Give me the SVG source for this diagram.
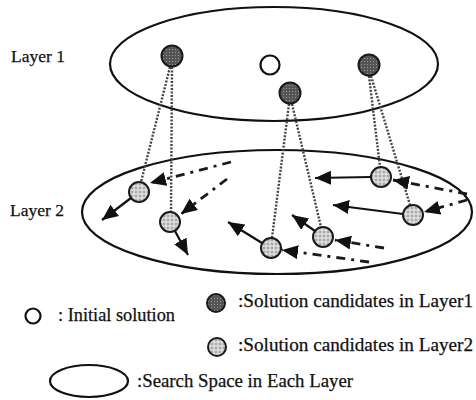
<svg xmlns="http://www.w3.org/2000/svg" width="476" height="400" viewBox="0 0 476 400">
  <style>
    .space { fill: none; stroke: #111; stroke-width: 2.2; }
    .label { font-family: "Liberation Serif", "Times New Roman", serif; font-size: 17.5px; fill: #111; stroke: #111; stroke-width: 0.25; }
    .key { font-size: 18.5px; }
    .init { fill: #fff; stroke: #111; stroke-width: 2.2; }
    .cand1 { fill: url(#dots); stroke: #1a1a1a; stroke-width: 2; }
    .cand2 { fill: url(#grid); stroke: #1a1a1a; stroke-width: 2; }
    .link { fill: none; stroke: #444; stroke-width: 2.4; stroke-dasharray: 2 1.5; }
    .move { fill: none; stroke: #111; stroke-width: 2.2; marker-end: url(#head); }
    .trail { fill: none; stroke: #1a1a1a; stroke-width: 2.8; stroke-dasharray: 9 6 3 6; marker-end: url(#head); }
  </style>
  <defs>
    <pattern id="dots" width="3" height="3" patternUnits="userSpaceOnUse">
      <rect width="3" height="3" fill="#555"/>
      <rect x="1" y="1" width="1" height="1" fill="#999"/>
    </pattern>
    <pattern id="grid" width="4" height="4" patternUnits="userSpaceOnUse">
      <rect width="4" height="4" fill="#aaa"/>
      <path d="M0 2H4M2 0V4" stroke="#f2f2f2" stroke-width="1"/>
    </pattern>
    <marker id="head" markerUnits="userSpaceOnUse" markerWidth="17" markerHeight="15" refX="16" refY="7" orient="auto">
      <path d="M0 0L16 7L0 14Z" fill="#111"/>
    </marker>
  </defs>

  <!-- layer labels -->
  <text class="label" x="11" y="62">Layer 1</text>
  <text class="label" x="10" y="216">Layer 2</text>

  <!-- search spaces -->
  <ellipse id="layer1-space" class="space" cx="274" cy="64" rx="164" ry="57"/>
  <ellipse id="layer2-space" class="space" cx="277" cy="212" rx="195" ry="62"/>

  <!-- connectors -->
  <g id="connectors">
    <!-- layer 1 candidates projected into layer 2 -->
    <line class="link" x1="170" y1="67" x2="141" y2="182"/>
    <line class="link" x1="172" y1="67" x2="171" y2="212"/>
    <line class="link" x1="289" y1="104" x2="272" y2="238"/>
    <line class="link" x1="292" y1="104" x2="321" y2="227"/>
    <line class="link" x1="369" y1="76" x2="380" y2="167"/>
    <line class="link" x1="371" y1="76" x2="410" y2="205"/>
    <!-- incoming search trails -->
    <line class="trail" x1="231" y1="162" x2="150" y2="183"/>
    <line class="trail" x1="227" y1="179" x2="181" y2="214"/>
    <line class="trail" x1="369" y1="262" x2="282" y2="250"/>
    <line class="trail" x1="384" y1="248" x2="335" y2="240"/>
    <line class="trail" x1="467" y1="194" x2="393" y2="180"/>
    <line class="trail" x1="467" y1="200" x2="424" y2="212"/>
    <!-- outgoing moves -->
    <line class="move" x1="131" y1="198" x2="102" y2="220"/>
    <line class="move" x1="175" y1="231" x2="188" y2="255"/>
    <line class="move" x1="262" y1="243" x2="228" y2="222"/>
    <line class="move" x1="315" y1="231" x2="292" y2="215"/>
    <line class="move" x1="371" y1="177" x2="315" y2="178"/>
    <line class="move" x1="403" y1="214" x2="333" y2="205"/>
  </g>

  <!-- layer 1 nodes -->
  <g id="initial"><circle class="init" cx="270" cy="65" r="9.5"/></g>
  <g id="l1-a"><circle class="cand1" cx="172" cy="56" r="10.5"/></g>
  <g id="l1-b"><circle class="cand1" cx="290" cy="93" r="10.5"/></g>
  <g id="l1-c"><circle class="cand1" cx="369" cy="65" r="10.5"/></g>

  <!-- layer 2 nodes -->
  <g id="l2-a"><circle class="cand2" cx="139" cy="192" r="10"/></g>
  <g id="l2-b"><circle class="cand2" cx="170" cy="222" r="10"/></g>
  <g id="l2-c"><circle class="cand2" cx="271" cy="248" r="10"/></g>
  <g id="l2-d"><circle class="cand2" cx="323" cy="237" r="10"/></g>
  <g id="l2-e"><circle class="cand2" cx="381" cy="177" r="10"/></g>
  <g id="l2-f"><circle class="cand2" cx="413" cy="215" r="10"/></g>

  <!-- legend -->
  <g id="legend">
    <circle class="init" cx="33" cy="316" r="7.5" stroke-width="2.5"/>
    <text class="label key" x="58" y="321" textLength="117" lengthAdjust="spacingAndGlyphs">: Initial solution</text>
    <circle class="cand1" cx="216" cy="303" r="9"/>
    <text class="label key" x="238" y="307" textLength="235" lengthAdjust="spacingAndGlyphs">:Solution candidates in Layer1</text>
    <circle class="cand2" cx="217" cy="347" r="9"/>
    <text class="label key" x="238" y="351" textLength="235" lengthAdjust="spacingAndGlyphs">:Solution candidates in Layer2</text>
    <ellipse class="space" cx="89" cy="381" rx="39" ry="16"/>
    <text class="label key" x="137" y="387" textLength="216" lengthAdjust="spacingAndGlyphs">:Search Space in Each Layer</text>
  </g>
</svg>
